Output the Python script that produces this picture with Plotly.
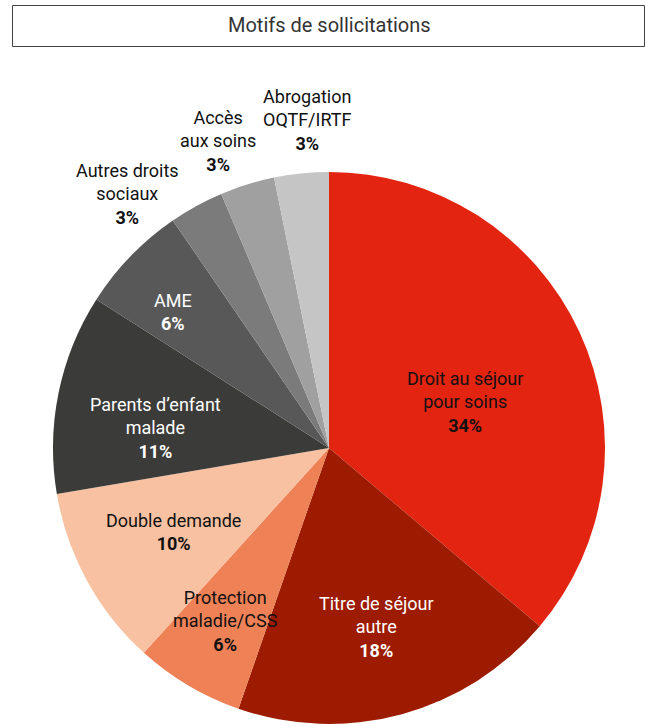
import math
import plotly.graph_objects as go

# ---- data ----
labels = ["Droit au séjour<br>pour soins", "Titre de séjour<br>autre", "Protection<br>maladie/CSS",
          "Double demande", "Parents d’enfant<br>malade", "AME", "Autres droits<br>sociaux",
          "Accès<br>aux soins", "Abrogation<br>OQTF/IRTF"]
values = [34, 18, 6, 10, 11, 6, 3, 3, 3]
pct_labels = ["34%", "18%", "6%", "10%", "11%", "6%", "3%", "3%", "3%"]
title_text = "Motifs de sollicitations"

# ---- styles ----
colors = ["#E32411", "#9D1B00", "#EF8157", "#F8C1A1", "#3B3B39", "#585858", "#7B7B7B", "#A0A0A0", "#C5C5C5"]
text_colors = ["#111111", "#FFFFFF", "#111111", "#111111", "#FFFFFF", "#FFFFFF", "#111111", "#111111", "#111111"]
label_rfrac = [0.52, 0.67, 0.73, 0.64, 0.634, 0.75, 1.175, 1.183, 1.191]
label_dtheta = [6.2, 0.3, 0.3, 0.4, -4.9, -3.1, -9.7, -2.7, 2.0]

W, H = 646, 724
CX, CY, R = 329, 448, 276
FONT = "Roboto, 'DejaVu Sans', sans-serif"

fig = go.Figure(go.Pie(
    labels=[l.replace("<br>", " ") for l in labels],
    values=values,
    sort=False,
    direction="clockwise",
    rotation=0,
    marker=dict(colors=colors, line=dict(width=0)),
    textinfo="none",
    hoverinfo="label+percent",
    showlegend=False,
    domain=dict(x=[(CX - R) / W, (CX + R) / W], y=[0, 1 - (CY - R) / H]),
))

total = sum(values)
cum = 0
annotations = []
for i, v in enumerate(values):
    mid = (cum + v / 2) / total * 360 + label_dtheta[i]
    cum += v
    r = label_rfrac[i] * R
    px = CX + r * math.sin(math.radians(mid))
    py = CY - r * math.cos(math.radians(mid))
    annotations.append(dict(
        x=px / W, y=1 - py / H, xref="paper", yref="paper",
        text=f"{labels[i]}<br><b>{pct_labels[i]}</b>",
        showarrow=False, xanchor="center", yanchor="middle", align="center",
        font=dict(family=FONT, size=18, color=text_colors[i]),
    ))

annotations.append(dict(
    x=(12 + W) / 2 / W, y=1 - 25 / H, xref="paper", yref="paper",
    text=title_text, showarrow=False, xanchor="center", yanchor="middle",
    font=dict(family=FONT, size=20, color="#333333"),
))

fig.update_layout(
    width=W, height=H,
    margin=dict(l=0, r=0, t=0, b=0),
    paper_bgcolor="white", plot_bgcolor="white",
    annotations=annotations,
    shapes=[dict(type="rect", xref="paper", yref="paper",
                 x0=12.5 / W, x1=644.5 / W, y0=1 - 46.5 / H, y1=1 - 5.5 / H,
                 line=dict(color="#444444", width=1))],
)

fig.write_html("out.html")
